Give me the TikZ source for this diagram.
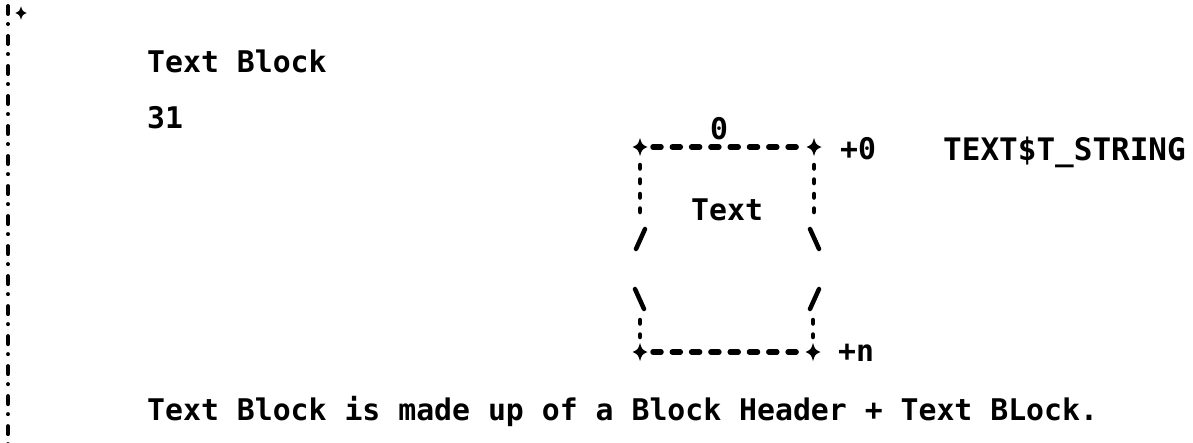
\documentclass[tikz,border=0pt]{standalone}
\usepackage{fontspec}
\setmonofont{DejaVu Sans Mono}
\usetikzlibrary{calc}
\tikzset{
  txt/.style={anchor=base west, inner sep=0pt, font=\ttfamily\bfseries\fontsize{29.8}{30}\selectfont},
  widetxt/.style={anchor=base west, inner sep=0pt, font=\ttfamily\bfseries\fontsize{31}{31}\selectfont},
  hdash/.style={line width=5.5pt, line cap=round, dash pattern=on 8pt off 11.3pt},
  vdash/.style={line width=4.5pt, line cap=round, dash pattern=on 3.5pt off 11pt},
  slash/.style={line width=4.5pt, line cap=round},
  margin/.style={line width=4pt, line cap=round, dash pattern=on 8pt off 10pt on 0.01pt off 12pt},
  cornermark/.pic={\fill (0,-9) .. controls (2,-2.5) .. (7.5,0) .. controls (2,2.5) .. (0,9) .. controls (-2,2.5) .. (-7.5,0) .. controls (-2,-2.5) .. (0,-9) -- cycle;}
}
\begin{document}
\begin{tikzpicture}[x=1pt,y=-1pt]
\useasboundingbox (0,0) rectangle (1193,442);
% left margin line
\coordinate (mtop) at (8,6);
\coordinate (mbot) at (8,445);
\draw[margin] (mtop) -- (mbot);
\pic[scale=0.75] at (21,13) {cornermark};
% texts
\node[txt] (title) at (147,72) {Text Block};
\node[txt] (bit31) at (147,128) {31};
\node[txt] (bit0) at (710,139) {0};
\node[txt] (off0) at (840,159) {+0};
\node[widetxt] (name) at (943,160) {TEXT\$T\_STRING};
\node[txt] (inner) at (691,220) {Text};
\node[txt] (offn) at (838,361) {+n};
\node[txt] (caption) at (147,420) {Text Block is made up of a Block Header + Text BLock.};
% box corners
\coordinate (tl) at (640,147);
\coordinate (tr) at (814,147);
\coordinate (bl) at (640,352);
\coordinate (br) at (813,352);
\draw[hdash] ($(tl)+(13,0)$) -- ($(tr)+(-9,0)$);
\draw[hdash] ($(bl)+(13,0)$) -- ($(br)+(-9,0)$);
\foreach \c in {tl,tr,bl,br} \pic at (\c) {cornermark};
% upper sides
\draw[vdash] (640,165) -- (640,220);
\draw[vdash] (814,165) -- (814,220);
\draw[slash] (636,249) -- (645,229);
\draw[slash] (810,229) -- (819,249);
% lower sides
\draw[slash] (635,289) -- (644,309);
\draw[slash] (819,289) -- (810,309);
\draw[vdash] (640,320) -- (640,337);
\draw[vdash] (813,320) -- (813,337);
\end{tikzpicture}
\end{document}
